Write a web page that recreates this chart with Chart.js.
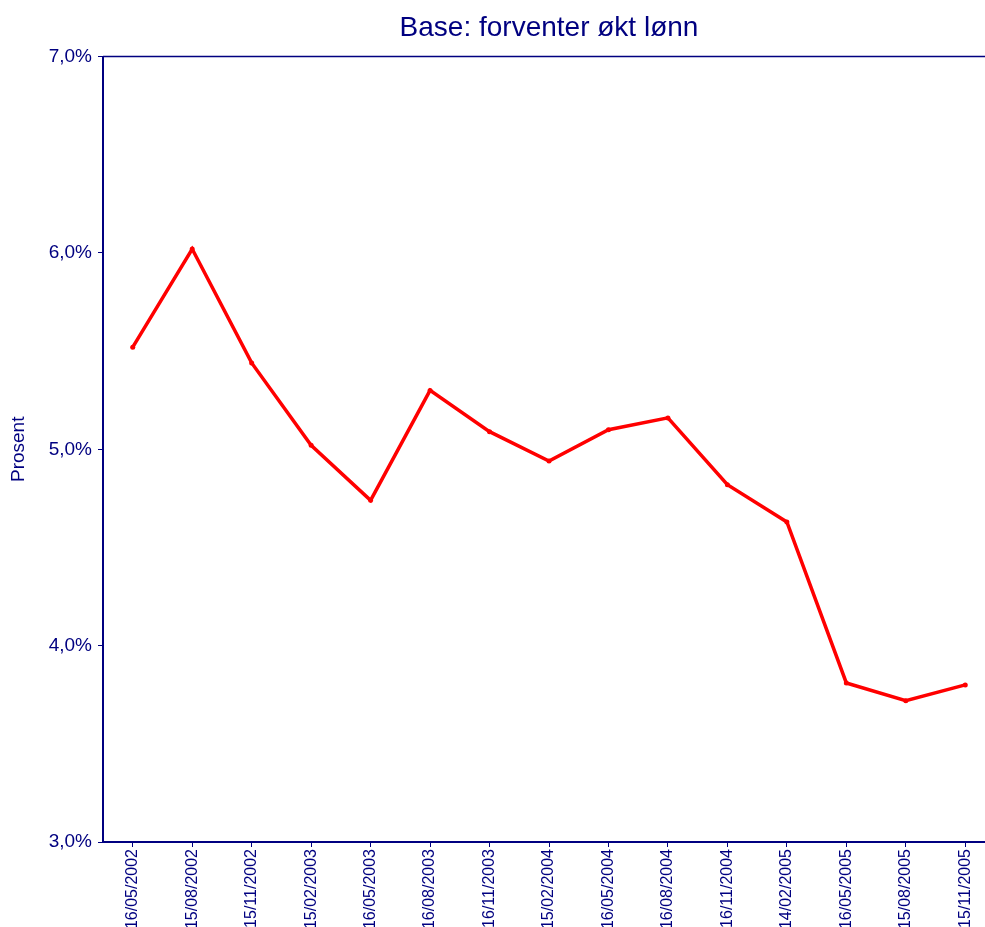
<!DOCTYPE html>
<html>
<head>
<meta charset="utf-8">
<script src="https://cdn.jsdelivr.net/npm/chart.js@4/dist/chart.umd.min.js"></script>
<style>
  html, body { margin: 0; padding: 0; background: #fff; overflow: hidden; }
  /* the original plot runs a little past the right edge of the picture */
  #wrap { width: 995px; height: 927px; }
</style>
</head>
<body>
<div id="wrap"><canvas id="lonnChart"></canvas></div>
<script>
const datoer = ["16/05/2002", "15/08/2002", "15/11/2002", "15/02/2003", "16/05/2003",
  "16/08/2003", "16/11/2003", "15/02/2004", "16/05/2004", "16/08/2004",
  "16/11/2004", "14/02/2005", "16/05/2005", "15/08/2005", "15/11/2005"];
const forventerOktLonn = [5.52, 6.02, 5.44, 5.02, 4.74, 5.30, 5.09, 4.94, 5.10, 5.16,
  4.82, 4.63, 3.81, 3.72, 3.80];
const yMin = 3, yMax = 7, yStep = 1;

const navy = "#000080";
const fontName = "'Liberation Sans', Arial, sans-serif";

// top line of the plot frame
const frameTop = {
  id: "frameTop",
  afterDraw(chart) {
    const ctx = chart.ctx, a = chart.chartArea;
    ctx.save();
    ctx.strokeStyle = navy;
    ctx.lineWidth = 1.5;
    ctx.beginPath();
    ctx.moveTo(a.left, a.top);
    ctx.lineTo(a.right, a.top);
    ctx.stroke();
    ctx.restore();
  }
};

window.onload = function() {
  const ctx = document.getElementById("lonnChart").getContext("2d");
  new Chart(ctx, {
    type: "line",
    data: {
      labels: datoer,
      datasets: [{
        label: "Base: forventer økt lønn",
        data: forventerOktLonn,
        borderColor: "#ff0000",
        backgroundColor: "#ff0000",
        borderWidth: 3.5,
        pointRadius: 2.5,
        pointBorderWidth: 0,
        tension: 0
      }]
    },
    options: {
      responsive: true,
      maintainAspectRatio: false,
      animation: false,
      layout: { padding: 0, autoPadding: false },
      plugins: {
        legend: { display: false },
        tooltip: { enabled: false },
        title: {
          display: true,
          text: "Base: forventer økt lønn",
          color: navy,
          fullSize: false,
          font: { family: fontName, size: 28, weight: "normal" },
          padding: { top: 11, bottom: 12 }
        }
      },
      scales: {
        x: {
          offset: true,
          grid: { drawOnChartArea: false, drawTicks: true, tickLength: 5, color: navy, offset: false },
          border: { color: navy, width: 2 },
          ticks: {
            color: navy,
            font: { family: fontName, size: 16 },
            minRotation: 90,
            maxRotation: 90,
            autoSkip: false,
            padding: 2
          },
          afterFit(scale) {
            scale.height = 85;
            scale.paddingLeft = 0;
            scale.paddingRight = 0;
          }
        },
        y: {
          min: yMin,
          max: yMax,
          grid: { drawOnChartArea: false, drawTicks: true, tickLength: 5, color: navy },
          border: { color: navy, width: 2 },
          ticks: {
            stepSize: yStep,
            color: navy,
            font: { family: fontName, size: 19 },
            padding: 6,
            callback: v => v.toFixed(1).replace(".", ",") + "%"
          },
          title: {
            display: true,
            text: "Prosent",
            color: navy,
            font: { family: fontName, size: 19 },
            padding: { top: 7, bottom: 0 }
          },
          afterFit(scale) {
            scale.width = 103;
            scale.paddingTop = 0;
            scale.paddingBottom = 0;
          }
        }
      }
    },
    plugins: [frameTop]
  });
};
</script>
</body>
</html>
